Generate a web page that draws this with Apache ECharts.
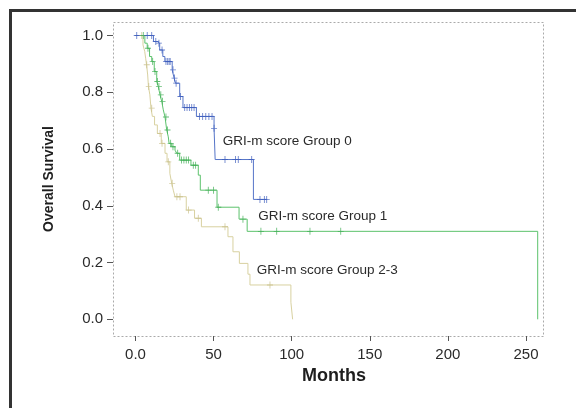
<!DOCTYPE html>
<html>
<head>
<meta charset="utf-8">
<script src="https://cdn.jsdelivr.net/npm/echarts@6/dist/echarts.min.js"></script>
<style>
html,body{margin:0;padding:0;background:#fff;}
#chart{width:576px;height:408px;}
</style>
</head>
<body>
<div id="chart"></div>
<script>
// ---- data (months, survival probability) ----
var xTicks = [0, 50, 100, 150, 200, 250];
var yTicks = [0, 0.2, 0.4, 0.6, 0.8, 1.0];
var groupNames = ['GRI-m score Group 0', 'GRI-m score Group 1', 'GRI-m score Group 2-3'];

var group0Steps = [
  [0,1.0],[11.5,0.979],[14,0.973],[15.5,0.949],[17.5,0.926],[18.8,0.908],
  [23.5,0.879],[24.7,0.85],[25.6,0.832],[28.3,0.785],[30.4,0.746],
  [39.0,0.715],[50.3,0.673],[51.0,0.563],[75.5,0.4225],[84,0.4225]
];
var group0Censored = [
  [0.8,1.0],[7.5,1.0],[10.4,1.0],[13,0.979],[15,0.973],[17,0.949],
  [19.5,0.908],[20.6,0.908],[21.5,0.908],[22.2,0.908],[24,0.879],[25,0.85],
  [26,0.832],[28.8,0.785],[31.5,0.746],[33,0.746],[34.5,0.746],[36,0.746],
  [37.5,0.746],[41,0.715],[43,0.715],[45,0.715],[47,0.715],[49,0.715],
  [50.3,0.673],[57.3,0.563],[64,0.563],[65.8,0.563],[74.4,0.563],
  [79.7,0.4225],[82.5,0.4225],[84,0.4225]
];

var group1Steps = [
  [0,1.0],[6,0.973],[7.5,0.955],[9,0.926],[10.4,0.908],[12,0.873],
  [13.6,0.838],[14.6,0.82],[15.7,0.791],[16.8,0.768],[17.8,0.738],
  [18.9,0.713],[20,0.667],[21,0.643],[21.5,0.62],[23.2,0.608],[25.3,0.596],
  [26.4,0.585],[28.3,0.561],[35.5,0.543],[40.2,0.508],[41.5,0.455],
  [52.2,0.395],[66.3,0.353],[71.5,0.31],[257.5,0.0]
];
var group1Censored = [
  [5,1.0],[8,0.955],[11,0.908],[12.5,0.873],[14,0.838],[15,0.82],[16.2,0.791],
  [17.3,0.768],[19.5,0.713],[20.5,0.667],[22.5,0.62],[24,0.608],[27,0.585],
  [29.5,0.561],[31,0.561],[32.5,0.561],[34,0.561],[37,0.543],[38.5,0.543],
  [46.6,0.455],[50,0.455],[53,0.395],[68.8,0.353],[80.3,0.31],[90.4,0.31],
  [111.7,0.31],[131.4,0.31]
];

var group23Steps = [
  [0,1.0],[4.8,0.967],[5.9,0.944],[6.5,0.92],[7.1,0.897],[7.8,0.861],
  [8.3,0.82],[9.2,0.791],[9.9,0.744],[10.8,0.715],[12.2,0.685],[14.0,0.655],
  [16.5,0.62],[18.9,0.585],[20.2,0.555],[22.0,0.514],[23.2,0.479],
  [24.2,0.455],[25.3,0.432],[32.5,0.385],[37.8,0.356],[42.2,0.326],
  [59.2,0.291],[62.4,0.238],[66.5,0.197],[72.0,0.159],[73.3,0.121],
  [99.5,0.06],[100.6,0.0]
];
var group23Censored = [
  [4,1.0],[7.2,0.897],[8.5,0.82],[10.4,0.744],[15.7,0.655],[17,0.62],
  [21,0.555],[23.5,0.479],[26.5,0.432],[28.5,0.432],[34,0.385],[40.2,0.356],
  [57.3,0.326],[86.1,0.121]
];

// ---- styling ----
var FONT = '"Liberation Sans", Arial, Helvetica, sans-serif';
var colors = ['#5675c8', '#5cc26c', '#d8d1a0'];
var markColors = ['#3d5dbd', '#3dad52', '#c8bf88'];
var plusPath = 'path://M-0.14,-1H0.14V1H-0.14ZM-1,-0.12H1V0.12H-1Z';

function stepSeries(name, data, i) {
  return {
    name: name, type: 'line', step: 'end', data: data,
    showSymbol: false, clip: false, silent: true,
    lineStyle: { width: 1, color: colors[i] }, z: 2
  };
}
function censorSeries(name, data, i) {
  return {
    name: name + ' (censored)', type: 'scatter', data: data,
    symbol: plusPath, symbolSize: [6, 7], clip: false, silent: true,
    itemStyle: { color: markColors[i] }, z: 3
  };
}

var chart = echarts.init(document.getElementById('chart'), null, { renderer: 'canvas' });
chart.setOption({
  animation: false,
  backgroundColor: '#fff',
  grid: { left: 113, right: 33, top: 22, bottom: 72 },
  xAxis: {
    type: 'value', min: -14.4, max: 260.9,
    name: 'Months', nameLocation: 'middle', nameGap: 30,
    nameTextStyle: { fontFamily: FONT, fontSize: 18, fontWeight: 'bold', color: '#1e1e1e', padding: [0, 0, 0, 12] },
    axisLine: { show: false, onZero: false },
    axisTick: { show: true, length: 5, customValues: xTicks, lineStyle: { color: '#555' } },
    axisLabel: {
      margin: 11, fontFamily: FONT, fontSize: 15, color: '#2a2a2a', customValues: xTicks,
      formatter: function (v) { return v === 0 ? '0.0' : String(v); }
    },
    splitLine: { show: false }
  },
  yAxis: {
    type: 'value', min: -0.0588, max: 1.0476,
    name: 'Overall Survival', nameLocation: 'middle', nameGap: 57,
    nameTextStyle: { fontFamily: FONT, fontSize: 14, fontWeight: 'bold', color: '#1e1e1e' },
    axisLine: { show: false, onZero: false },
    axisTick: { show: true, length: 6, customValues: yTicks, lineStyle: { color: '#555' } },
    axisLabel: {
      margin: 10, fontFamily: FONT, fontSize: 15, color: '#2a2a2a', customValues: yTicks,
      formatter: function (v) { return v.toFixed(1); }
    },
    splitLine: { show: false }
  },
  graphic: [
    { type: 'rect', silent: true, z: 0,
      shape: { x: 10.5, y: 10.5, width: 700, height: 700 },
      style: { fill: 'none', stroke: '#333', lineWidth: 3 } },
    { type: 'rect', silent: true, z: 0,
      shape: { x: 113.5, y: 22.5, width: 430, height: 314 },
      style: { fill: 'none', stroke: '#aaa', lineWidth: 1, lineDash: [2, 2] } },
    { type: 'text', silent: true, x: 222.7, y: 141,
      style: { text: groupNames[0], font: '13.5px ' + FONT, fill: '#2a2a2a', verticalAlign: 'middle', textVerticalAlign: 'middle' } },
    { type: 'text', silent: true, x: 258.3, y: 216.7,
      style: { text: groupNames[1], font: '13.5px ' + FONT, fill: '#2a2a2a', verticalAlign: 'middle', textVerticalAlign: 'middle' } },
    { type: 'text', silent: true, x: 256.7, y: 270,
      style: { text: groupNames[2], font: '13.5px ' + FONT, fill: '#2a2a2a', verticalAlign: 'middle', textVerticalAlign: 'middle' } }
  ],
  series: [
    stepSeries(groupNames[2], group23Steps, 2),
    stepSeries(groupNames[1], group1Steps, 1),
    stepSeries(groupNames[0], group0Steps, 0),
    censorSeries(groupNames[2], group23Censored, 2),
    censorSeries(groupNames[1], group1Censored, 1),
    censorSeries(groupNames[0], group0Censored, 0)
  ]
});
</script>
</body>
</html>
